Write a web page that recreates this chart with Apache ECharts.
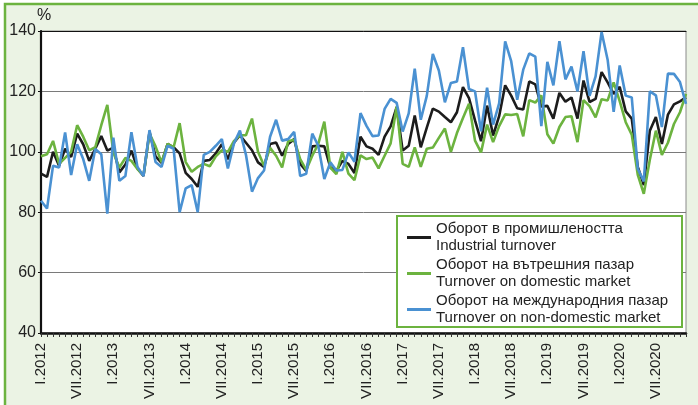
<!DOCTYPE html>
<html>
<head>
<meta charset="utf-8">
<script src="https://cdn.jsdelivr.net/npm/echarts@6/dist/echarts.min.js"></script>
<style>
  html, body { margin: 0; padding: 0; background: #ffffff; }
  #chart { width: 698px; height: 405px; }
</style>
</head>
<body>
<div id="chart"></div>
<script>
// Monthly turnover indices, %, January 2012 – December 2020
const years = [2012, 2013, 2014, 2015, 2016, 2017, 2018, 2019, 2020];
const monthRoman = ['I', 'II', 'III', 'IV', 'V', 'VI', 'VII', 'VIII', 'IX', 'X', 'XI', 'XII'];
const categories = years.flatMap(y => monthRoman.map(m => m + '.' + y));

const yTicks = [40, 60, 80, 100, 120, 140];

const seriesNames = [
  'Оборот в промишлеността\nIndustrial turnover',
  'Оборот на вътрешния пазар\nTurnover on domestic market',
  'Оборот на международния пазар\nTurnover on non-domestic market'
];

// Industrial turnover
const industrial = [
  92.8, 91.7, 100, 95.4, 101, 98.3, 106, 102.5, 97, 101, 105.2, 100.4,
  101.4, 93.2, 95.8, 100.4, 94.5, 92, 106.6, 98.5, 96.3, 102.6, 101.5, 99.5,
  93, 91, 88.4, 97, 97.3, 99.5, 102.5, 97.5, 103, 105.5, 103, 100.5,
  96.5, 95, 102.6, 103.1, 98.7, 102.6, 104.2, 96, 93.7, 101.8, 102, 101.8,
  94.8, 93.7, 97, 96, 93, 105, 101.8, 101, 99, 105, 108.4, 114.8,
  100.4, 102, 112, 101.5, 108, 114.3, 113.3, 111.5, 109.8, 113.1, 121.4, 117.8,
  110.4, 103.5, 115.3, 105.4, 111.8, 122, 118.6, 114.4, 114, 123.3, 122.3, 115,
  115.2, 111, 119.5, 116.6, 118, 111, 123.6, 116.5, 117.5, 126.4, 123, 119.2,
  121.5, 113.4, 111, 95, 89, 107, 111.5, 102.6, 112.3, 115.7, 116.7, 118
];

// Turnover on domestic market
const domestic = [
  98.5, 99.2, 103.6, 96, 98, 100, 108.8, 105, 100.5, 101.5, 108.8, 115.5,
  99.8, 94.8, 98, 97, 94.3, 92.2, 106, 101.8, 96.5, 102.6, 101.5, 109.5,
  96.6, 93.4, 95, 96, 95.2, 98.5, 100.5, 100, 103.5, 105.5, 105.5, 111,
  100, 95.4, 101.3, 98.7, 94.8, 103.5, 104, 97.6, 94, 98.7, 102.6, 110,
  94.8, 92.6, 100, 92.8, 90.6, 98.8, 97.6, 98.1, 94.5, 98.7, 102.8, 115,
  96, 95, 101.5, 95, 101, 101.4, 104.6, 107.7, 100, 106.2, 111.2, 115.9,
  103.7, 99.8, 109, 103.2, 108.5, 112.4, 112.2, 112.5, 105.1, 117.1, 116.3, 118.7,
  105.8, 102.7, 108.2, 111.5, 111.8, 103.2, 117.1, 115.1, 111.4, 117.4, 117, 123,
  116.8, 109.8, 105.7, 92.4, 86.1, 97.4, 107, 99, 103, 109.2, 113.1, 119.2
];

// Turnover on non-domestic market
const nonDomestic = [
  83.8, 81.2, 95.4, 94.8, 106.4, 92.3, 102.5, 97.6, 90.4, 100.9, 99.2, 79.5,
  104.7, 90.4, 92, 106.5, 95, 92, 107.2, 96.6, 95, 102, 101, 80,
  87.9, 89, 80, 99, 100, 102, 104.2, 94.5, 102.7, 107, 99, 86.8,
  91.3, 93.8, 105, 110.6, 103.7, 104.2, 106.6, 92, 92.7, 106, 102, 91,
  96.5, 93.8, 94, 99.8, 96.7, 112.8, 108.6, 105.2, 105.4, 114.2, 117.5, 116.2,
  106.7, 112.7, 127.5, 110.6, 118.5, 132.4, 126.9, 116.4, 122.8, 123.3, 134.6, 120.8,
  120, 106.8, 121.2, 109, 116, 136.6, 130, 117.2, 127.2, 132.6, 131.5, 108.5,
  129.8, 122, 136.6, 124, 128.2, 120, 133.3, 118.5, 125, 139.7, 130.5, 113.2,
  128.6, 118.6, 118, 94.4, 90.2, 120, 118.7, 108.2, 125.9, 125.8, 123.1, 115.9
];

const colors = ['#1c1c1c', '#6cb33f', '#4a91d2'];
const font = '"Liberation Sans", Arial, sans-serif';

const chart = echarts.init(document.getElementById('chart'), null, { renderer: 'canvas' });

function lineSeries(name, data, color) {
  return {
    name: name,
    type: 'line',
    data: data,
    showSymbol: false,
    symbol: 'none',
    lineStyle: { color: color, width: 2.6 },
    itemStyle: { color: color },
    animation: false
  };
}

chart.setOption({
  backgroundColor: '#ffffff',
  animation: false,
  textStyle: { fontFamily: font },
  grid: {
    left: 41, right: 12, top: 31, bottom: 72,
    show: true,
    backgroundColor: '#ffffff',
    borderColor: '#8a8a8a',
    borderWidth: 1
  },
  xAxis: [
    {
      type: 'category',
      data: categories,
      boundaryGap: false,
      axisLine: { lineStyle: { color: '#111', width: 2.5 } },
      axisTick: { show: true, interval: 0, length: 4, lineStyle: { color: '#333', width: 1 } },
      axisLabel: {
        interval: 5,
        rotate: 90,
        margin: 10,
        fontSize: 15,
        color: '#222',
        fontFamily: font
      },
      splitLine: { show: false }
    },
    {
      type: 'category',
      data: categories,
      boundaryGap: false,
      position: 'top',
      axisLine: { lineStyle: { color: '#111', width: 1 } },
      axisTick: { show: false },
      axisLabel: { show: false },
      splitLine: { show: false }
    }
  ],
  yAxis: {
    type: 'value',
    min: yTicks[0],
    max: yTicks[yTicks.length - 1],
    interval: 20,
    axisLine: { show: true, lineStyle: { color: '#111', width: 2.2 } },
    axisTick: { show: true, length: 3, lineStyle: { color: '#111' } },
    axisLabel: { fontSize: 16, color: '#222', margin: 5, fontFamily: font },
    splitLine: { show: true, lineStyle: { color: '#7a7a7a', width: 1 } }
  },
  legend: {
    orient: 'vertical',
    left: 407,
    top: 220,
    padding: 0,
    itemGap: 1,
    itemWidth: 24,
    itemHeight: 3,
    icon: 'rect',
    z: 60,
    data: seriesNames,
    textStyle: { fontSize: 15, lineHeight: 17.5, color: '#222', fontFamily: font }
  },
  graphic: [
    {
      type: 'rect',
      z: -10,
      shape: { x: 5, y: 4, width: 720, height: 430 },
      style: { fill: '#ebf3e4', stroke: '#6cb33f', lineWidth: 2.5 }
    },
    {
      type: 'rect',
      z: 50,
      shape: { x: 397, y: 216, width: 285, height: 111 },
      style: { fill: '#ffffff', stroke: '#6cb33f', lineWidth: 2 }
    },
    {
      type: 'text',
      z: 50,
      left: 37,
      top: 8,
      style: { text: '%', fontSize: 16, fill: '#222', font: '16px ' + font }
    }
  ],
  series: [
    lineSeries(seriesNames[0], industrial, colors[0]),
    lineSeries(seriesNames[1], domestic, colors[1]),
    lineSeries(seriesNames[2], nonDomestic, colors[2])
  ]
});
</script>
</body>
</html>
